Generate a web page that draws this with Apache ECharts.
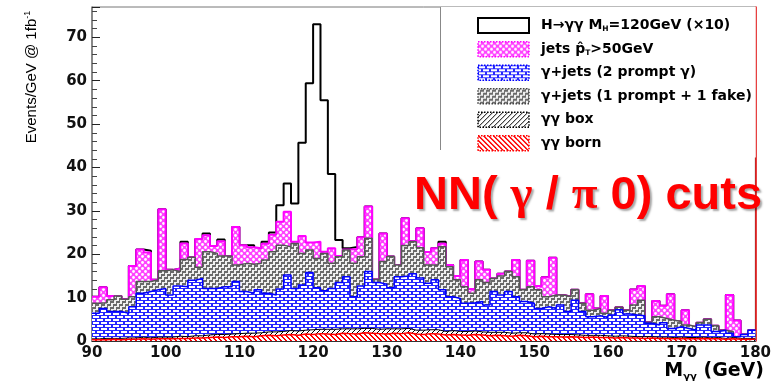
<!DOCTYPE html>
<html><head><meta charset="utf-8">
<script src="https://cdn.jsdelivr.net/npm/echarts@6/dist/echarts.min.js"></script>
<style>html,body{margin:0;padding:0;background:#fff}#c{width:774px;height:381px}</style>
</head><body><div id="c"></div>
<script>
// Histogram binning: 1 GeV bins from 90 to 180 GeV
const BIN_START = 90, BIN_WIDTH = 1, N_BINS = 90;
const xTickLabels = [90,100,110,120,130,140,150,160,170,180];
const yTickLabels = [0,10,20,30,40,50,60,70];

// gamma-gamma born (component, events/GeV)
const born = [0.3,0.3,0.4,0.3,0.4,0.4,0.5,0.4,0.5,0.5, 0.5,0.6,0.6,0.7,0.7,0.8,0.9,0.8,1.0,1.0,
  1.1,1.0,1.2,1.3,1.2,1.4,1.5,1.3,1.6,1.5, 1.7,1.6,1.5,1.8,1.7,1.6,1.9,1.8,1.7,1.6,
  1.8,1.7,1.9,1.6,1.5,1.7,1.6,1.4,1.5,1.4, 1.3,1.5,1.4,1.2,1.3,1.2,1.1,1.3,1.2,1.0,
  1.1,1.0,1.0,0.9,1.0,0.9,0.8,0.9,0.8,0.8, 0.7,0.8,0.7,0.7,0.6,0.7,0.6,0.6,0.5,0.6,
  0.5,0.5,0.6,0.5,0.5,0.4,0.5,0.4,0.4,0.4];
// gamma-gamma box (component)
const box = [0.2,0.3,0.2,0.3,0.3,0.3,0.4,0.3,0.4,0.4, 0.4,0.5,0.4,0.5,0.5,0.6,0.6,0.7,0.6,0.7,
  0.7,0.8,0.7,0.8,0.9,0.8,0.9,1.0,0.9,1.1, 1.0,1.1,1.2,1.0,1.1,1.2,1.0,1.1,1.0,1.2,
  1.0,1.1,1.0,0.9,1.0,0.9,1.0,0.8,0.9,0.8, 0.9,0.8,0.7,0.8,0.7,0.8,0.7,0.6,0.7,0.6,
  0.6,0.6,0.5,0.6,0.5,0.5,0.5,0.4,0.5,0.4, 0.4,0.4,0.4,0.3,0.4,0.3,0.3,0.3,0.3,0.3,
  0.3,0.3,0.3,0.2,0.3,0.2,0.3,0.2,0.2,0.2];
// stack top after gamma+jets (2 prompt gamma)
const topPrompt2 = [6.4,7.5,6.8,6.8,6.4,7.9,11,11.4,11.8,12.1, 10.6,12.7,12.5,14,14.4,12.1,12.1,12.5,12.5,13.7,
  11.4,11,11.8,11,10.6,12,15.2,12.1,12.9,15.8, 12.3,11.6,12.1,13.5,14.8,10.2,12.7,16,13.5,13.1,
  12.3,14.8,15,15.5,14.5,13.3,14.1,11.8,10.2,9.8, 8.7,8.8,9.1,8.3,11.4,10.6,11.4,10.2,9.1,8.7,
  7.5,7.9,7.5,8.3,6.8,9.4,6.8,5.6,5.8,5.4, 6,7.2,6.2,6,5.8,4.1,3.7,4.2,2.9,3.3,
  2.9,2.5,3.7,3.7,2.2,2.5,1.8,1,1.5,2.5];
// stack top after gamma+jets (1 prompt + 1 fake)
const topFake = [8.7,8.8,9.5,10.4,9.6,10.2,13.7,13.7,14.1,16.2, 16.4,16,18.8,19.3,17,20.6,20.2,19.6,19.6,17.5,
  17.9,17.7,17.9,18.7,20.6,22.1,21.7,22.5,20.2,21, 19,20.2,17.9,19.4,21,17.9,19.4,23.7,14.2,18.3,
  19.5,17.5,22,22.9,21.5,17.5,17.5,21.7,17.1,14.1, 12.5,11,14.1,13.5,14.4,15,16,14.8,11.8,12.5,
  11.8,10.2,10.6,10.6,10.2,11.8,8.7,7.1,7.5,6.4, 7.1,7.8,7.1,8.3,9.4,4.3,5.6,5.2,4.8,4.5,
  3.7,3.3,4.2,5,3.5,2.5,2.2,1,1.5,2.5];
// stack top after jets pT>50GeV (total background)
const topJets = [10.2,12.4,10.4,10.4,9.6,17.3,21.1,20.4,14.1,30.4, 16.4,16.7,22.5,19.3,23.5,24.4,21.9,23,19.6,26.3,
  22.1,21.6,21.4,22.4,24.5,27.5,29.8,22.9,24.2,22.7, 22.9,20.6,21.4,19.6,21.1,21.2,23.9,31,14.2,24.8,
  19.5,17.5,28.3,23,26,20.5,21.4,22.4,17.5,15, 18.7,12,18.3,16.4,14.4,15.5,16,18.7,11.8,18.5,
  12.7,14.7,19.2,10.6,10.2,11.8,8.7,10.8,7.5,10.4, 7.1,7.8,7.1,11.9,12.7,4.3,9.2,8.1,10.8,4.5,
  7.1,3.3,4.2,5,3.5,2.5,10.6,4.7,1.5,2.5];
// H->gg signal (x10), component on top of background
const signal10 = [0,0,0,0,0,0,0,0.4,0,0, 0,0,0.4,0,0,0.4,0,0.4,0,0,
  0,0.5,0,0.5,0.5,3.8,6.5,8.8,21.5,36.7, 50.1,34.9,17.1,3.7,0.3,0.5,0,0,0,0,
  0,0,0,0,0,0,0,0.5,0,0, 0,0,0,0,0,0,0,0,0,0,
  0,0,0,0,0,0,0,0,0,0, 0,0,0,0,0,0,0,0,0,0,
  0,0,0,0,0,0,0,0,0,0];

const edges = Array.from({length: N_BINS}, (_, i) => BIN_START + i * BIN_WIDTH);
function stepData(vals) {
  const d = vals.map((v, i) => [edges[i], v]);
  d.push([edges[N_BINS - 1] + BIN_WIDTH, vals[N_BINS - 1]]);
  return d;
}
const topBox = born.map((v, i) => v + box[i]);
const topSignal = topJets.map((v, i) => v + signal10[i]);

function pattern(w, h, bg, draw) {
  const c = document.createElement('canvas'); c.width = w; c.height = h;
  const g = c.getContext('2d'); g.fillStyle = bg; g.fillRect(0, 0, w, h); draw(g);
  return {image: c, repeat: 'repeat'};
}
const patJets = pattern(6, 6, '#ff44ff', g => {
  g.fillStyle = '#ffffff';
  g.beginPath(); g.arc(1.5, 1.5, 1.4, 0, 7); g.fill();
  g.beginPath(); g.arc(4.5, 4.5, 1.4, 0, 7); g.fill();
});
const patBlue = pattern(8, 6, '#2626ff', g => {
  g.fillStyle = '#ffffff';
  g.fillRect(1, 1, 6, 2); g.fillRect(5, 4, 3, 2); g.fillRect(0, 4, 3, 2);
});
const stairs = [[0,5],[1,5],[2,5],[5,5],[2,2],[2,3],[2,4],[3,2],[4,2],[5,2],[5,0],[5,1]];
const patFake = pattern(6, 6, '#f0f0f0', g => {
  g.fillStyle = '#6a6a6a';
  stairs.forEach(p => { g.fillRect(p[0], p[1], 1, 1); g.fillRect(p[0], (p[1] + 5) % 6, 1, 1); });
});
const patBox = pattern(5, 5, '#ffffff', g => {
  g.fillStyle = '#000000';
  for (let i = 0; i < 5; i++) g.fillRect(i, 4 - i, 1, 1);
});
const patBorn = pattern(5, 5, '#ffffff', g => {
  g.fillStyle = '#ff0000';
  for (let i = 0; i < 5; i++) { g.fillRect(i, i, 1, 1); g.fillRect((i + 1) % 5, i, 1, 1); }
});

const names = {
  sig: 'H→γγ MH=120GeV (×10)',
  jets: 'jets pT>50GeV',
  p2: 'γ+jets (2 prompt γ)',
  fake: 'γ+jets (1 prompt + 1 fake)',
  box: 'γγ box',
  born: 'γγ born'
};
const legendRich = {};
legendRich[names.sig] = '{b|H→γγ M}{s|H}{b|=120GeV (×10)}';
legendRich[names.jets] = '{b|jets p̂}{s|T}{b|>50GeV}';
legendRich[names.p2] = '{b|γ+jets (2 prompt γ)}';
legendRich[names.fake] = '{b|γ+jets (1 prompt + 1 fake)}';
legendRich[names.box] = '{b|γγ box}';
legendRich[names.born] = '{b|γγ born}';

function histSeries(name, vals, lineColor, lineWidth, fill, z) {
  const s = {
    name, type: 'line', step: 'end', data: stepData(vals), symbol: 'none',
    z, color: lineColor, lineStyle: {color: lineColor, width: lineWidth},
    emphasis: {disabled: true}, silent: true
  };
  if (fill) s.areaStyle = {color: fill, opacity: 1};
  return s;
}

const F = 'DejaVu Sans';
const chart = echarts.init(document.getElementById('c'));
chart.setOption({
  animation: false,
  backgroundColor: '#fff',
  grid: {left: 92, right: 15, top: 7, bottom: 40, show: true, borderColor: '#777', borderWidth: 1},
  xAxis: {
    type: 'value', min: 90, max: 180, interval: 10,
    axisLine: {lineStyle: {color: '#333', width: 1.2}},
    axisTick: {inside: true, length: 9, lineStyle: {color: '#222'}},
    minorTick: {show: true, splitNumber: 5, length: 5, lineStyle: {color: '#222'}},
    splitLine: {show: false},
    axisLabel: {margin: 5, fontFamily: F, fontWeight: 'bold', fontSize: 15, color: '#111',
      formatter: v => xTickLabels.includes(v) ? String(v) : ''}
  },
  yAxis: [{
    type: 'value', min: 0, max: 77, interval: 10,
    axisLine: {show: true, lineStyle: {color: '#777', width: 1.5}},
    axisTick: {inside: true, length: 8, lineStyle: {color: '#222'}},
    minorTick: {show: true, splitNumber: 5, length: 5, lineStyle: {color: '#444'}},
    splitLine: {show: false},
    axisLabel: {margin: 5, fontFamily: F, fontWeight: 'bold', fontSize: 15, color: '#111', showMaxLabel: false,
      formatter: v => yTickLabels.includes(v) ? String(v) : ''}
  }, {
    type: 'value', min: 0, max: 77, position: 'right',
    axisLine: {show: true, lineStyle: {color: '#e00000', width: 1.5}},
    axisTick: {show: false}, axisLabel: {show: false}, splitLine: {show: false}
  }],
  legend: {
    orient: 'vertical', left: 440, top: 7, padding: [10, 4, 6, 37],
    backgroundColor: '#fff', itemWidth: 51, itemHeight: 15, itemGap: 7,
    selectedMode: false, z: 10,
    formatter: n => legendRich[n],
    textStyle: {fontFamily: F, fontWeight: 'bold', fontSize: 14, color: '#000', padding: [0, 0, 0, 7],
      rich: {
        b: {fontFamily: F, fontWeight: 'bold', fontSize: 14, color: '#000', lineHeight: 15},
        s: {fontFamily: F, fontWeight: 'bold', fontSize: 7.5, color: '#000', lineHeight: 9, verticalAlign: 'bottom'}
      }},
    data: [
      {name: names.sig, icon: 'rect', itemStyle: {color: '#fff', borderColor: '#000', borderWidth: 2}},
      {name: names.jets, icon: 'rect', itemStyle: {color: patJets, borderColor: '#ff00ff', borderWidth: 1.5, borderType: 'dotted'}},
      {name: names.p2, icon: 'rect', itemStyle: {color: patBlue, borderColor: '#0000ff', borderWidth: 1.5, borderType: 'dotted'}},
      {name: names.fake, icon: 'rect', itemStyle: {color: patFake, borderColor: '#444', borderWidth: 1.5, borderType: 'dotted'}},
      {name: names.box, icon: 'rect', itemStyle: {color: patBox, borderColor: '#000', borderWidth: 1.5, borderType: 'dotted'}},
      {name: names.born, icon: 'rect', itemStyle: {color: patBorn, borderColor: '#ff0000', borderWidth: 1.5, borderType: 'dotted'}}
    ]
  },
  title: {
    text: '{a|NN( }{g|γ}{a| / }{g|π}{a| 0) cuts}', left: 414, top: 170, padding: 0,
    textStyle: {rich: {
      a: {fontFamily: 'Liberation Sans', fontWeight: 'bold', fontSize: 47, color: '#ff0000', lineHeight: 52,
          textShadowColor: 'rgba(0,0,0,0.35)', textShadowOffsetX: 2, textShadowOffsetY: 2, textShadowBlur: 2},
      g: {fontFamily: 'Liberation Serif', fontWeight: 'bold', fontSize: 47, color: '#ff0000', lineHeight: 52,
          textShadowColor: 'rgba(0,0,0,0.35)', textShadowOffsetX: 2, textShadowOffsetY: 2, textShadowBlur: 2}
    }}
  },
  graphic: [
    {type: 'line', z: 20, shape: {x1: 440.5, y1: 7, x2: 440.5, y2: 150}, style: {stroke: '#888', lineWidth: 1}},
    {type: 'text', z: 20, x: 32, y: 77, rotation: Math.PI / 2,
      style: {text: '{a|Events/GeV @ 1fb}{b|-1}', align: 'center', verticalAlign: 'middle',
        rich: {a: {fontFamily: 'Liberation Sans', fontSize: 15, fill: '#000', lineHeight: 18},
               b: {fontFamily: 'Liberation Sans', fontSize: 9, fill: '#000', lineHeight: 18, verticalAlign: 'top'}}}},
    {type: 'text', z: 20, x: 764, y: 371,
      style: {text: '{a|M}{s|γγ}{a| (GeV)}', align: 'right', verticalAlign: 'middle',
        rich: {a: {fontFamily: F, fontWeight: 'bold', fontSize: 19, fill: '#000', lineHeight: 22},
               s: {fontFamily: F, fontWeight: 'bold', fontSize: 10, fill: '#000', lineHeight: 11, verticalAlign: 'bottom'}}}}
  ],
  series: [
    histSeries(names.sig, topSignal, '#000000', 2, null, 2),
    histSeries(names.jets, topJets, '#ff00ff', 2, patJets, 3),
    histSeries(names.fake, topFake, '#555555', 1.5, patFake, 4),
    histSeries(names.p2, topPrompt2, '#0000ff', 1.5, patBlue, 5),
    histSeries(names.box, topBox, '#000000', 1, patBox, 6),
    histSeries(names.born, born, '#ff0000', 1.5, patBorn, 7)
  ]
});
</script>
</body></html>
